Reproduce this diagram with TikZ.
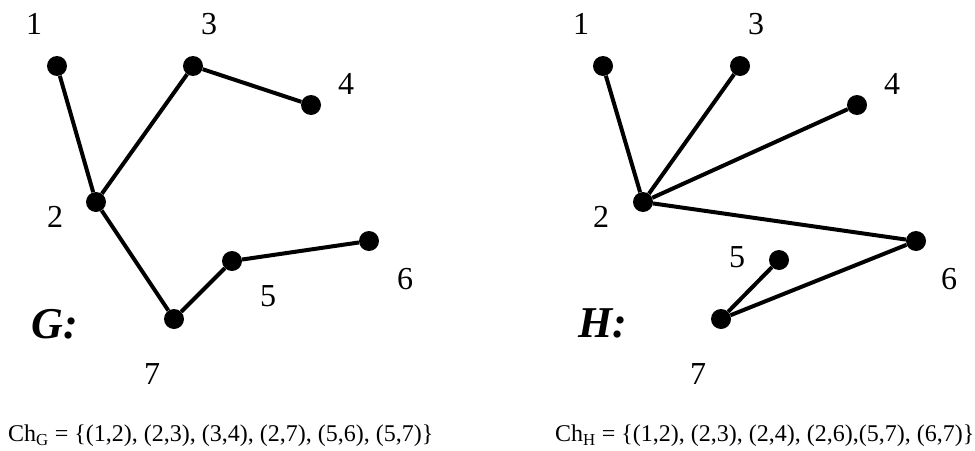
\documentclass[tikz,border=0pt]{standalone}
\usepackage{fontspec}
\setmainfont{Liberation Serif}
\tikzset{
    dot/.style={circle, fill=black, inner sep=0pt, minimum size=20pt},
    lab/.style={inner sep=0pt, font=\fontsize{32}{38}\selectfont},
    gname/.style={inner sep=0pt, font=\fontsize{44}{50}\selectfont\bfseries\itshape},
    edge/.style={line width=4pt},
}
\begin{document}
\begin{tikzpicture}[x=1pt,y=-1pt]
        \useasboundingbox (0,0) rectangle (975,450);
        % graph G
            \foreach \n/\x/\y/\lx/\ly in {1/57/66/34/24,2/96/202/55/217,3/193/66/209/24,4/311/105/346/84,5/232/261/268/296,6/369/241/405/279,7/174/319/152/374}{
                \node[dot] (g\n) at (\x,\y) {};
                \node[lab] (gl\n) at (\lx,\ly) {\n};
            }
            \foreach \a/\b in {1/2,2/3,3/4,2/7,7/5,5/6}{
                \draw[edge] (g\a) -- (g\b);
            }
        % graph H
            \foreach \n/\x/\y/\lx/\ly in {1/603/66/581/24,2/643/202/601/217,3/740/66/756/24,4/857/105/892/84,5/779/260/737/257,6/916/241/949/279,7/721/319/698/374}{
                \node[dot] (h\n) at (\x,\y) {};
                \node[lab] (hl\n) at (\lx,\ly) {\n};
            }
            \foreach \a/\b in {1/2,2/3,2/4,2/6,6/7,7/5}{
                \draw[edge] (h\a) -- (h\b);
            }
        % labels
            \node[gname] (gn) at (55,324) {G:};
            \node[gname] (hn) at (603,323) {H:};
            \node[anchor=west, inner sep=0pt, font=\fontsize{24}{28}\selectfont] (chg) at (8,436) {Ch\textsubscript{G} = \{(1,2), (2,3), (3,4), (2,7), (5,6), (5,7)\}};
            \node[anchor=west, inner sep=0pt, font=\fontsize{24}{28}\selectfont] (chh) at (555,436) {Ch\textsubscript{H} = \{(1,2), (2,3), (2,4), (2,6),(5,7), (6,7)\}};
        \end{tikzpicture}
\end{document}
